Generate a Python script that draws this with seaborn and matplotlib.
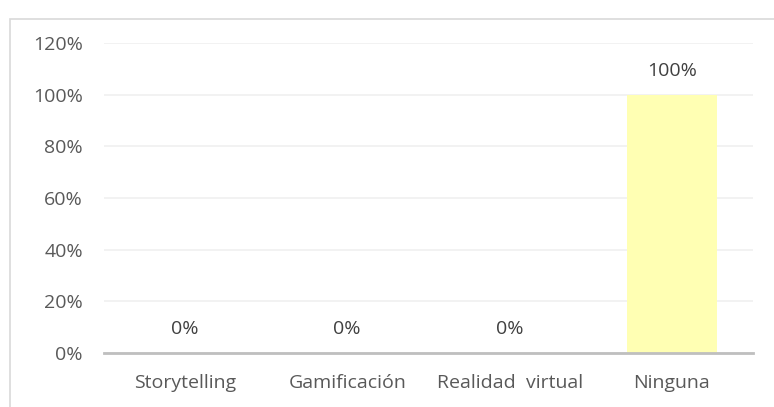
import matplotlib
matplotlib.use('Agg')
import matplotlib.pyplot as plt
import seaborn as sns
import pandas as pd
from matplotlib.patches import Rectangle

categorias = ['Storytelling', 'Gamificación', 'Realidad  virtual', 'Ninguna']
valores = [0.0, 0.0, 0.0, 1.0]
ticks_y = [0, 0.2, 0.4, 0.6, 0.8, 1.0, 1.2]
etiquetas_y = ['0%', '20%', '40%', '60%', '80%', '100%', '120%']

sns.set_style('white')
plt.rcParams['font.family'] = ['Open Sans', 'DejaVu Sans']

df = pd.DataFrame({'categoria': categorias, 'valor': valores})

fig = plt.figure(figsize=(7.74, 4.07), dpi=100)
ax = fig.add_axes([0.134, 0.133, 0.839, 0.761])

sns.barplot(data=df, x='categoria', y='valor', color='#FFFFB3', saturation=1,
            width=0.55, linewidth=0, ax=ax, zorder=3)

ax.set_ylim(0, 1.2)
ax.set_yticks(ticks_y)
ax.set_yticklabels(etiquetas_y)
ax.yaxis.grid(True, color='#F0F0F0', linewidth=1.2, zorder=0)
ax.set_axisbelow(True)
for lado in ['top', 'right', 'left']:
    ax.spines[lado].set_visible(False)
ax.spines['bottom'].set_color('#BFBFBF')
ax.spines['bottom'].set_linewidth(2)
ax.spines['bottom'].set_zorder(4)
ax.tick_params(axis='both', length=0, colors='#595959', labelsize=14)
ax.tick_params(axis='x', pad=15)
ax.tick_params(axis='y', pad=15)
ax.set_xlabel('')
ax.set_ylabel('')

# etiquetas de datos
for i, v in enumerate(valores):
    ax.annotate(f'{v:.0%}', (i, v), xytext=(0, 17), textcoords='offset points',
                ha='center', va='center', color='#404040', fontsize=14)

# marco del grafico
fig.patches.append(Rectangle((10 / 774, -0.01), 1.0, 1 - 19 / 407 + 0.01,
                             transform=fig.transFigure, fill=False,
                             edgecolor='#D9D9D9', linewidth=1.2))

fig.savefig('out.png', dpi=100)
